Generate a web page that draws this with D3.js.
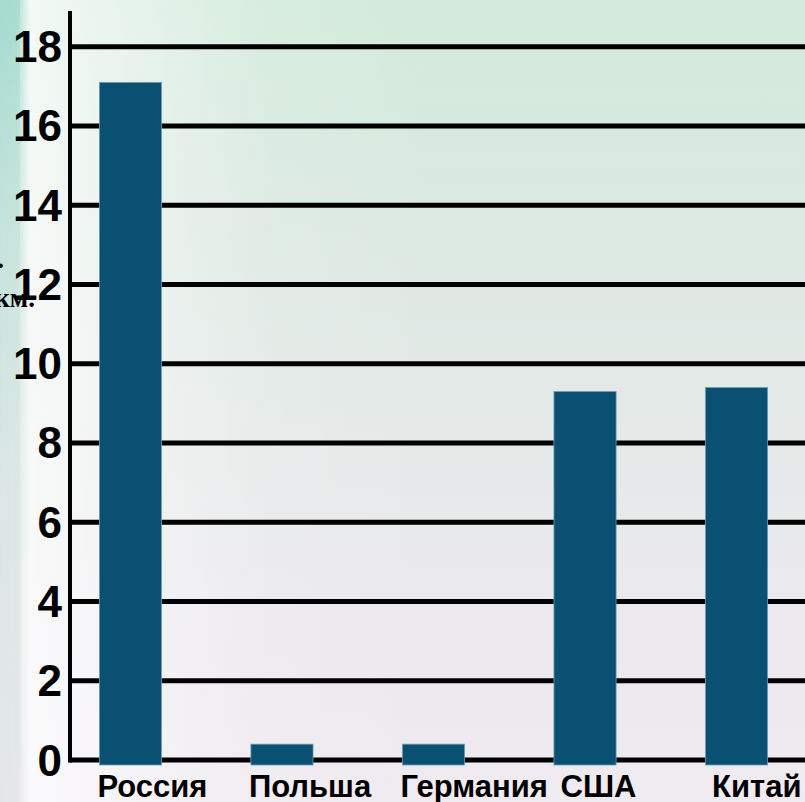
<!DOCTYPE html>
<html>
<head>
<meta charset="utf-8">
<script src="https://cdn.jsdelivr.net/npm/d3@7/dist/d3.min.js"></script>
<style>
html,body{margin:0;padding:0;overflow:hidden;}
svg{display:block;}
</style>
</head>
<body>
<svg id="chart" width="805" height="802"></svg>
<script>
const categories = ["Россия", "Польша", "Германия", " США", " Китай"];
const values = [17.1, 0.4, 0.4, 9.3, 9.4];
const yTicks = [0, 2, 4, 6, 8, 10, 12, 14, 16, 18];
const axisTitle = ["млн.", "км."];

const W = 805, H = 802;
const svg = d3.select("#chart");
const defs = svg.append("defs");

// Background gradients
const bg = defs.append("linearGradient").attr("id", "bg").attr("x1", 0).attr("y1", 0).attr("x2", 0).attr("y2", 1);
[[0, "#d2eadb"], [0.3, "#dce9e2"], [0.55, "#e5e9e8"], [0.8, "#ece9ee"], [1, "#efebf0"]]
  .forEach(([o, c]) => bg.append("stop").attr("offset", o).attr("stop-color", c));

const hl = defs.append("linearGradient").attr("id", "hl").attr("x1", 0).attr("y1", 0).attr("x2", 1).attr("y2", 0);
[[0, "#ffffff", 0.75], [0.25, "#ffffff", 0.45], [0.6, "#ffffff", 0.1], [1, "#ffffff", 0]]
  .forEach(([o, c, a]) => hl.append("stop").attr("offset", o).attr("stop-color", c).attr("stop-opacity", a));

const strip = defs.append("linearGradient").attr("id", "strip").attr("x1", 0).attr("y1", 0).attr("x2", 0).attr("y2", 1);
[[0, "#a3dbcf"], [0.3, "#c6e3dc"], [0.6, "#dbe6e5"], [1, "#e3e6e7"]]
  .forEach(([o, c]) => strip.append("stop").attr("offset", o).attr("stop-color", c));

const stripFade = defs.append("linearGradient").attr("id", "stripFade").attr("x1", 0).attr("y1", 0).attr("x2", 1).attr("y2", 0);
[[0, "#fff", 1], [0.55, "#fff", 0.9], [1, "#fff", 0]]
  .forEach(([o, c, a]) => stripFade.append("stop").attr("offset", o).attr("stop-color", c).attr("stop-opacity", a));
defs.append("mask").attr("id", "stripMask").attr("maskUnits", "userSpaceOnUse")
  .append("rect").attr("x", 0).attr("y", 0).attr("width", 30).attr("height", H).attr("fill", "url(#stripFade)");

svg.append("rect").attr("width", W).attr("height", H).attr("fill", "url(#bg)");
svg.append("rect").attr("x", 20).attr("width", 420).attr("height", H).attr("fill", "url(#hl)");
svg.append("rect").attr("x", 0).attr("width", 30).attr("height", H).attr("fill", "url(#strip)").attr("mask", "url(#stripMask)");

// Scales
const x = d3.scaleBand().domain(categories).range([10, 857]).padding(0.59);
const y = d3.scaleLinear().domain([0, 18]).range([760, 46.7]);
const axisX = 70;

// Gridlines
svg.append("g").selectAll("line").data(yTicks).join("line")
  .attr("x1", axisX).attr("x2", W)
  .attr("y1", d => y(d)).attr("y2", d => y(d))
  .attr("stroke", "#000").attr("stroke-width", 5);

// Vertical axis line
svg.append("line").attr("x1", axisX).attr("x2", axisX)
  .attr("y1", 11).attr("y2", y(0) + 2.5)
  .attr("stroke", "#000").attr("stroke-width", 4);

// Bars
svg.append("g").selectAll("rect").data(values).join("rect")
  .attr("x", (d, i) => x(categories[i]))
  .attr("y", d => y(d))
  .attr("width", x.bandwidth())
  .attr("height", d => y(0) - y(d) + 5)
  .attr("fill", "#0a5072")
  .attr("stroke", "#6f9cb6").attr("stroke-width", 0.8);

// Y tick labels
svg.append("g").selectAll("text").data(yTicks).join("text")
  .attr("x", 62).attr("y", d => y(d) + 15.5)
  .attr("text-anchor", "end")
  .attr("font-family", "Liberation Sans, Arial, sans-serif")
  .attr("font-weight", "bold").attr("font-size", 44)
  .attr("fill", "#000")
  .text(d => d);

// Category labels
svg.append("g").selectAll("text").data(categories).join("text")
  .attr("x", d => x(d) - 2).attr("y", 797)
  .attr("text-anchor", "start")
  .style("white-space", "pre")
  .attr("font-family", "Liberation Sans, Arial, sans-serif")
  .attr("font-weight", "bold").attr("font-size", 31)
  .attr("fill", "#000")
  .text(d => d);

// Axis title (cut off at left edge, as in the reference)
svg.append("text").attr("x", 4).attr("y", 268)
  .attr("text-anchor", "end")
  .attr("font-family", "Liberation Serif, Times New Roman, serif")
  .attr("font-weight", "bold")
  .attr("font-size", 27).attr("fill", "#000")
  .text(axisTitle[0]);
svg.append("text").attr("x", 35).attr("y", 307)
  .attr("text-anchor", "end")
  .attr("font-family", "Liberation Serif, Times New Roman, serif")
  .attr("font-weight", "bold")
  .attr("font-size", 27).attr("fill", "#000")
  .text(axisTitle[1]);
</script>
</body>
</html>
